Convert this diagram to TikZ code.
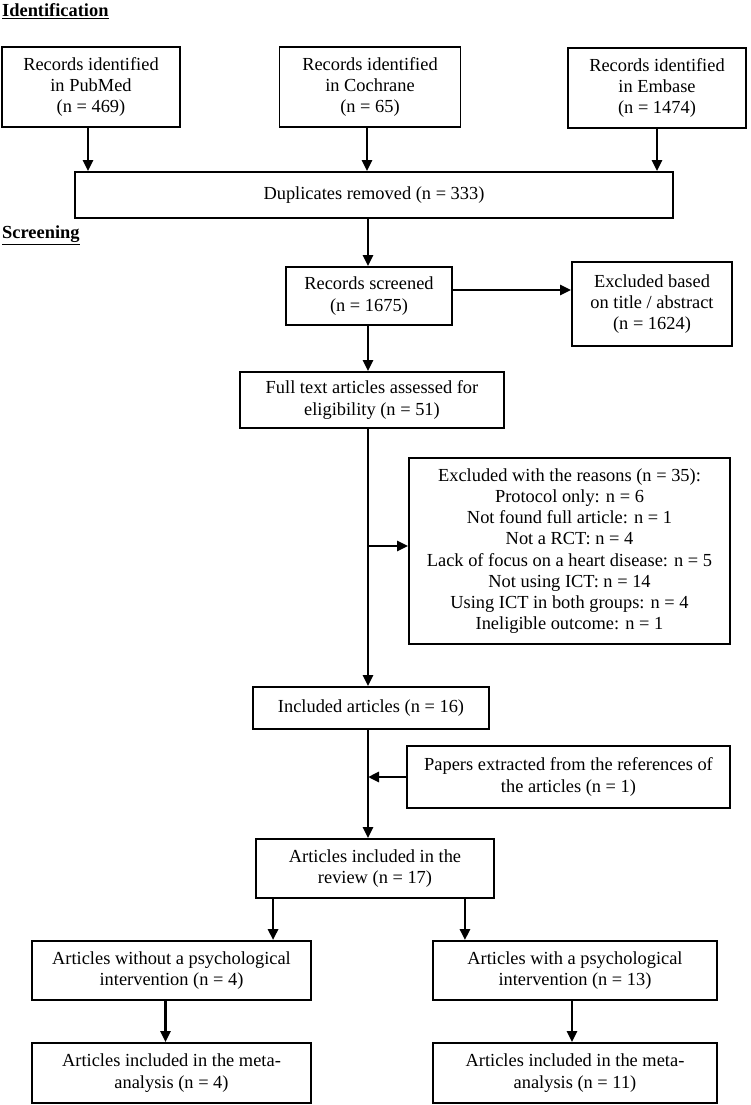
\documentclass[tikz,border=0pt]{standalone}
\usepackage{fontspec}
\setmainfont{Liberation Serif}
\usetikzlibrary{arrows.meta}
\newcommand{\boxfont}{\fontsize{18.4}{21.2}\selectfont}
\begin{document}
\begin{tikzpicture}[x=1pt,y=-1pt,
  box/.style={draw, line width=1.9pt, align=center, inner sep=0pt, font=\boxfont},
  head/.style={anchor=west, inner sep=0pt, font=\boxfont\bfseries},
  arr/.style={line width=2.8pt, -{Triangle[length=11pt,width=10pt]}}]
\useasboundingbox[fill=white] (0,0) rectangle (750,1105);

\node[head] (hid) at (2,11) {\underline{Identification}};
\node[head] (hsc) at (2,235) {\underline{Screening}};

\node[box, minimum width=178pt, minimum height=80pt] (pub) at (91,87) {Records identified\\in PubMed\\(n = 469)};
\node[box, minimum width=181pt, minimum height=80pt] (coch) at (370,87) {Records identified\\in Cochrane\\(n = 65)};
\node[box, minimum width=178pt, minimum height=80pt] (emb) at (657,88) {Records identified\\in Embase\\(n = 1474)};
\node[box, minimum width=598pt, minimum height=46pt] (dup) at (374,195) {Duplicates removed (n = 333)};
\node[box, minimum width=166pt, minimum height=58pt] (scr) at (369,296) {Records screened\\(n = 1675)};
\node[box, minimum width=160pt, minimum height=84pt] (exb) at (652,304) {Excluded based\\on title / abstract\\(n = 1624)};
\node[box, minimum width=264pt, minimum height=56pt] (full) at (372,400) {Full text articles assessed for\\eligibility (n = 51)};
\node[box, minimum width=321pt, minimum height=186pt] (exr) at (569.5,551) {Excluded with the reasons (n = 35):\\Protocol only: n = 6\\Not found full article: n = 1\\Not a RCT: n = 4\\Lack of focus on a heart disease: n = 5\\Not using ICT: n = 14\\Using ICT in both groups: n = 4\\Ineligible outcome: n = 1};
\node[box, minimum width=236pt, minimum height=42pt] (inc) at (371,708) {Included articles (n = 16)};
\node[box, minimum width=323pt, minimum height=62pt] (pap) at (568.5,777) {Papers extracted from the references of\\the articles (n = 1)};
\node[box, minimum width=238pt, minimum height=59pt] (rev) at (375,868.5) {Articles included in the\\review (n = 17)};
\node[box, minimum width=279pt, minimum height=59pt] (wo) at (171.5,970.5) {Articles without a psychological\\intervention (n = 4)};
\node[box, minimum width=284pt, minimum height=59pt] (wi) at (575,970.5) {Articles with a psychological\\intervention (n = 13)};
\node[box, minimum width=279pt, minimum height=60pt] (mL) at (171.5,1073) {Articles included in the meta-\\analysis (n = 4)};
\node[box, minimum width=284pt, minimum height=60pt] (mR) at (575,1073) {Articles included in the meta-\\analysis (n = 11)};

% identification arrows
\coordinate (a1) at ([xshift=-3pt]pub.south);
\draw[arr] (a1) -- (a1 |- dup.north);
\coordinate (a2) at ([xshift=-3pt]coch.south);
\draw[arr] (a2) -- (a2 |- dup.north);
\draw[arr] (emb.south) -- (emb.south |- dup.north);

% spine
\coordinate (sp) at (368,0);
\draw[arr] (sp |- dup.south) -- (sp |- scr.north);
\draw[arr] ([yshift=6pt]scr.east) -- ([yshift=6pt]scr.east -| exb.west);
\draw[arr] (sp |- scr.south) -- (sp |- full.north);
\draw[arr] (sp |- full.south) -- (sp |- inc.north);
\draw[arr] (sp |- exr.west) ++(0,-5) coordinate (b1) -- (b1 -| exr.west);
\draw[arr] (sp |- inc.south) -- (sp |- rev.north);
\draw[arr] (pap.west) -- (pap.west -| sp);

% review branches
\coordinate (r1) at ([xshift=18pt]rev.south west);
\coordinate (r2) at ([xshift=-30pt]rev.south east);
\draw[arr] (r1) -- (r1 |- wo.north);
\draw[arr] (r2) -- (r2 |- wi.north);
\coordinate (w1) at ([xshift=-6pt]wo.south);
\draw[arr] (w1) -- (w1 |- mL.north);
\coordinate (w2) at ([xshift=-3pt]wi.south);
\draw[arr] (w2) -- (w2 |- mR.north);
\end{tikzpicture}
\end{document}
